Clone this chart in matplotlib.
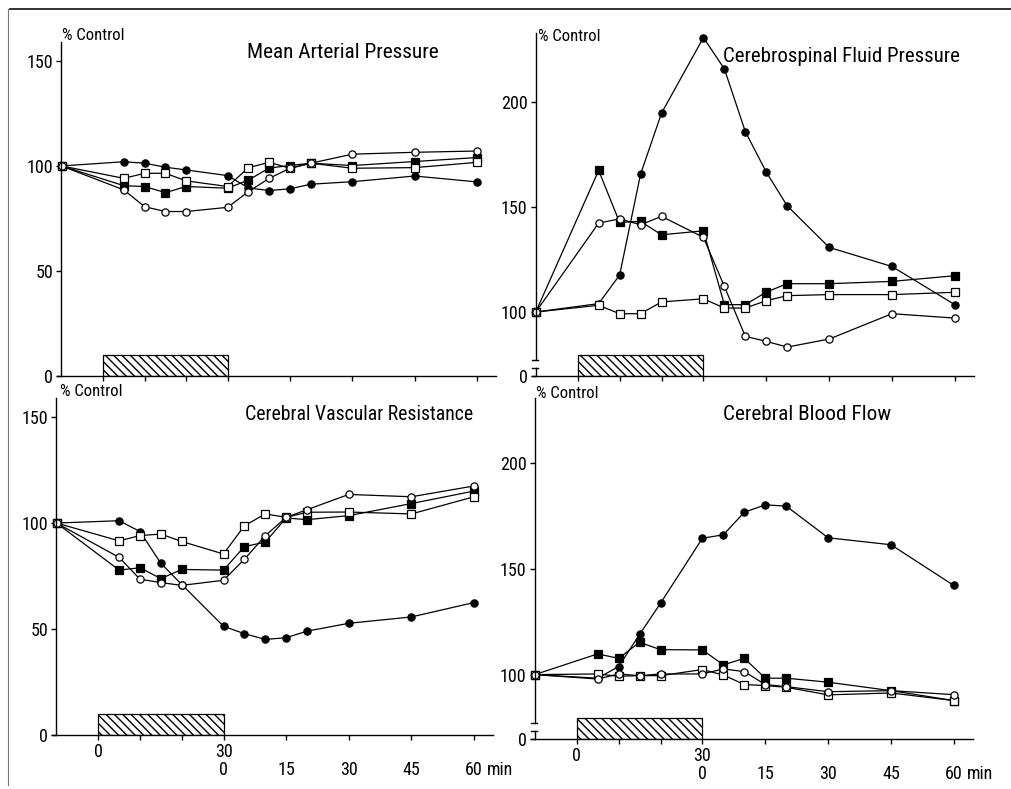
import numpy as np
import matplotlib
matplotlib.use("Agg")
import matplotlib.pyplot as plt
from matplotlib import font_manager
from matplotlib.lines import Line2D

# time axis: control at -10, infusion 0-30 min, recovery 30-90 (= 0-60 min)
times = [-10, 5, 10, 15, 20, 30, 35, 40, 45, 50, 60, 75, 90]

# Mean Arterial Pressure
map_fc = [100, 102.0, 101.3, 99.4, 98.1, 95.4, 89.5, 88.3, 89.1, 91.3, 92.5, 95.2, 92.4]
map_fs = [100, 90.6, 90.2, 87.3, 90.2, 89.4, 93.3, 99.0, 100.2, 101.3, 100.2, 102.1, 104.0]
map_oc = [100, 88.6, 80.6, 78.3, 78.3, 80.3, 87.8, 94.1, 98.9, 101.3, 105.6, 106.5, 107.1]
map_os = [100, 94.1, 96.5, 96.5, 92.9, 90.2, 99.2, 101.7, 98.9, 101.3, 98.9, 99.2, 101.7]

# Cerebrospinal Fluid Pressure
csf_fc = [100, 104.0, 117.6, 165.7, 194.8, 230.8, 215.9, 186.0, 166.7, 150.6, 130.8, 121.7, 103.5]
csf_fs = [100, 167.5, 142.7, 143.2, 136.8, 138.7, 103.5, 103.5, 109.5, 113.5, 113.5, 114.6, 117.3]
csf_oc = [100, 142.4, 144.4, 141.6, 145.6, 135.6, 112.2, 88.4, 86.0, 83.3, 87.1, 99.2, 97.1]
csf_os = [100, 103.2, 99.2, 99.2, 104.8, 106.3, 101.9, 101.9, 105.4, 107.8, 108.3, 108.3, 109.4]

# Cerebral Vascular Resistance
cvr_fc = [100, 101.1, 96.0, 81.0, 71.0, 51.3, 47.8, 45.1, 45.9, 49.0, 52.7, 55.7, 62.5]
cvr_fs = [100, 77.8, 78.9, 73.8, 78.1, 77.8, 88.9, 91.0, 102.4, 101.6, 103.5, 109.2, 115.1]
cvr_oc = [100, 83.8, 73.5, 71.9, 70.6, 73.0, 82.9, 94.0, 102.7, 106.3, 113.5, 112.4, 117.5]
cvr_os = [100, 91.6, 94.1, 94.8, 91.3, 85.4, 98.7, 104.3, 102.7, 105.1, 105.2, 104.3, 112.4]

# Cerebral Blood Flow
cbf_fc = [100, 98.3, 103.8, 119.0, 133.8, 164.6, 166.2, 176.9, 180.4, 179.8, 164.8, 161.5, 142.2]
cbf_fs = [100, 109.8, 107.7, 115.3, 111.8, 111.7, 104.6, 107.7, 98.3, 98.3, 96.4, 92.4, 87.7]
cbf_oc = [100, 97.9, 100.3, 99.5, 100.3, 100.3, 102.7, 101.4, 95.3, 94.3, 91.9, 92.4, 90.5]
cbf_os = [100, 100.3, 99.2, 99.5, 99.5, 102.4, 99.8, 95.3, 94.8, 94.0, 90.4, 91.3, 87.7]

xticks = [0, 10, 20, 30, 45, 60, 75, 90]
xlabels = ["0", "", "", "30\n0", "\n15", "\n30", "\n45", "\n60"]
XMAX = 94.5


def pick_font(names):
    for n in names:
        try:
            font_manager.findfont(font_manager.FontProperties(family=n),
                                  fallback_to_default=False)
            return n, True
        except ValueError:
            pass
    return "DejaVu Sans", False


fam, narrow = pick_font(["Roboto Condensed", "Liberation Sans Narrow",
                         "Open Sans Condensed"])
plt.rcParams["font.family"] = [fam, "DejaVu Sans"]
fs_tick = 13 if narrow else 11
fs_title = 15.3 if narrow else 12
fs_small = 12 if narrow else 9.5

# broken y axis for the two right panels
BRK, UBRK, OFF = 77.0, 7.5, 69.5


def fwd(v):
    v = np.asarray(v, dtype=float)
    return np.where(v < BRK, v * UBRK / BRK, v - OFF)


def inv(u):
    u = np.asarray(u, dtype=float)
    return np.where(u < UBRK, u * BRK / UBRK, u + OFF)


W, H = 1012, 789
fig = plt.figure(figsize=(W / 100, H / 100), dpi=100)


def add_ax(l, t, r, b):
    return fig.add_axes([l / W, 1 - b / H, (r - l) / W, (b - t) / H])


def draw_panel(ax, fc, fs, oc, os_, title, tpos, tsize, lpos, broken, ymax,
               yticks, bottom):
    ax.set_xlim(-10, XMAX)
    if broken:
        ax.set_yscale("function", functions=(fwd, inv))
    ax.set_ylim(0, ymax)
    kw = dict(color="black", lw=0.9, markeredgewidth=0.9, clip_on=False)
    ax.plot(times, fc, marker="o", ms=5.2, mfc="black", mec="black", **kw)
    ax.plot(times, fs, marker="s", ms=5.2, mfc="black", mec="black", **kw)
    ax.plot(times, os_, marker="s", ms=5.4, mfc="white", mec="black", **kw)
    ax.plot(times, oc, marker="o", ms=5.2, mfc="white", mec="black", **kw)

    # infusion bar
    bar_top = 10 if not broken else inv(9.8)
    ax.bar(15, bar_top, width=30, bottom=0, facecolor="white",
           edgecolor="black", hatch="\\\\\\\\", lw=0.9, zorder=1)

    for s in ["top", "right"]:
        ax.spines[s].set_visible(False)
    for s in ["left", "bottom"]:
        ax.spines[s].set_linewidth(1.0)
    ax.spines["bottom"].set_bounds(-11, XMAX)
    ax.set_yticks(yticks)
    ax.set_yticklabels([str(v) for v in yticks], fontsize=fs_tick)
    ax.set_xticks(xticks)
    if bottom:
        ax.set_xticklabels(xlabels, fontsize=fs_tick, linespacing=1.0)
        ax.annotate("min", xy=(93.2, 0), xycoords=("data", "axes fraction"),
                    xytext=(0, -18.5), textcoords="offset points",
                    va="top", ha="left", fontsize=fs_tick, annotation_clip=False)
    else:
        ax.set_xticklabels([])
    ax.tick_params(direction="out", length=3.5, width=1.0, pad=2.5)

    if broken:
        lo = inv(3.8)
        ax.spines["left"].set_bounds(BRK, ymax)
        ax.plot([-10, -10], [0, lo], color="black", lw=1.0, clip_on=False)
        for yv in (BRK, lo):
            ax.plot([-10.9, -9.4], [yv, yv], color="black", lw=1.0,
                    clip_on=False)

    fig.text(lpos[0] / W, 1 - lpos[1] / H, "% Control", fontsize=fs_small,
             ha="left", va="baseline")
    fig.text(tpos[0] / W, 1 - tpos[1] / H, title, fontsize=tsize,
             ha="left", va="center")


ax1 = add_ax(61.5, 42, 495.7, 376)
draw_panel(ax1, map_fc, map_fs, map_oc, map_os, "Mean Arterial Pressure",
           (247, 53), fs_title, (62, 40), False, 159, [0, 50, 100, 150], False)

ax2 = add_ax(535.8, 33, 973.7, 376)
draw_panel(ax2, csf_fc, csf_fs, csf_oc, csf_os, "Cerebrospinal Fluid Pressure",
           (723, 57), fs_title * 0.98, (538, 41), True, 233,
           [0, 100, 150, 200], False)

ax3 = add_ax(56.5, 398, 492.8, 735)
draw_panel(ax3, cvr_fc, cvr_fs, cvr_oc, cvr_os, "Cerebral Vascular Resistance",
           (245, 414), fs_title * 0.93, (60, 396), False, 159,
           [0, 50, 100, 150], True)

ax4 = add_ax(534.8, 398, 972.7, 739)
draw_panel(ax4, cbf_fc, cbf_fs, cbf_oc, cbf_os, "Cerebral Blood Flow",
           (723, 414), fs_title, (536, 398), True, 231,
           [0, 100, 150, 200], True)

# page frame from the scan (top and left edges)
fig.add_artist(Line2D([10 / W, 1], [1 - 9 / H, 1 - 9 / H], color="#222222",
                      lw=1.3, transform=fig.transFigure))
fig.add_artist(Line2D([8 / W, 8 / W], [1 - 9 / H, 1 - 785 / H], color="#777777",
                      lw=0.8, transform=fig.transFigure))

fig.savefig("out.png", dpi=100)
